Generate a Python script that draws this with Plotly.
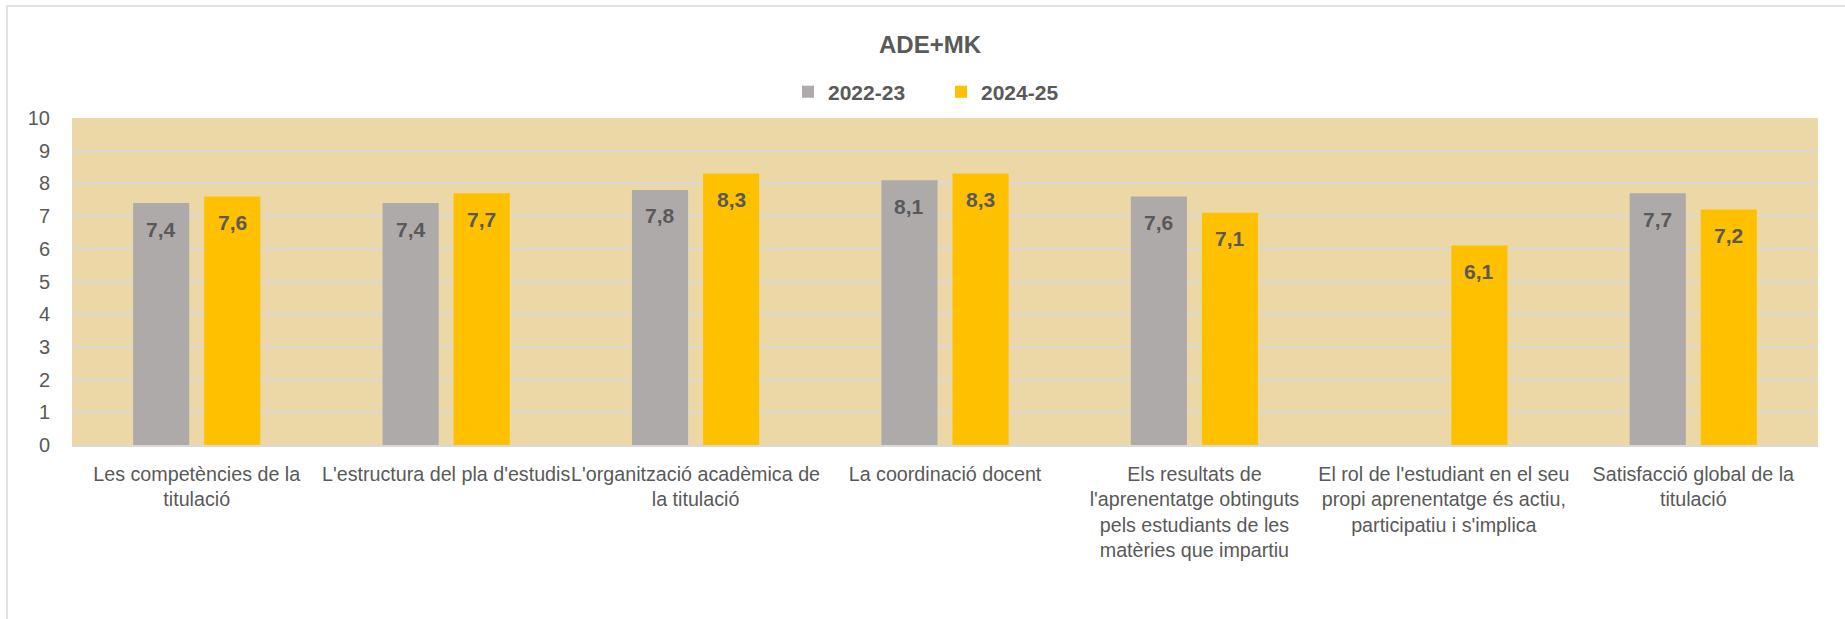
import plotly.graph_objects as go

categories = [
    "Les competències de la<br>titulació",
    "L'estructura del pla d'estudis",
    "L'organització acadèmica de<br>la titulació",
    "La coordinació docent",
    "Els resultats de<br>l'aprenentatge obtinguts<br>pels estudiants de les<br>matèries que impartiu",
    "El rol de l'estudiant en el seu<br>propi aprenentatge és actiu,<br>participatiu i s'implica",
    "Satisfacció global de la<br>titulació",
]
series_names = ["2022-23", "2024-25"]
values_2022 = [7.4, 7.4, 7.8, 8.1, 7.6, None, 7.7]
values_2024 = [7.6, 7.7, 8.3, 8.3, 7.1, 6.1, 7.2]
colors = ["#AEAAAA", "#FFC000"]
y_ticks = list(range(0, 11))

W, H = 1845, 619
L, R, T, B = 72, 27, 118, 174
plot_w = W - L - R
plot_h = H - T - B
BARGAP = 0.43
cat_px = plot_w / len(categories)
slot_px = cat_px * (1 - BARGAP) / 2

TXT = "#595959"
FONT = "Liberation Sans, Arial, sans-serif"

fig = go.Figure()
for name, vals, col in zip(series_names, [values_2022, values_2024], colors):
    fig.add_trace(go.Bar(x=categories, y=vals, name=name, marker=dict(color=col, line=dict(width=0)),
                         hoverinfo="skip"))

# data labels inside the top of each bar
for si, vals in enumerate([values_2022, values_2024]):
    shift = (-0.5 if si == 0 else 0.5) * slot_px
    for c, v in zip(categories, vals):
        if v is None:
            continue
        fig.add_annotation(x=c, y=v, xref="x", yref="y", text=f"{v:.1f}".replace(".", ","),
                           showarrow=False, xshift=shift, yshift=-26, yanchor="middle",
                           font=dict(family=FONT, size=21, color=TXT, weight="bold"))

# outer chart border (left & top visible)
fig.add_shape(type="rect", xref="paper", yref="paper",
              x0=(7 - L) / plot_w, x1=(W + 10 - L) / plot_w,
              y0=(H - B - 6) / plot_h, y1=(H - B - (H + 10)) / plot_h,
              line=dict(color="#D9D9D9", width=1.5), fillcolor="rgba(0,0,0,0)", layer="below")

fig.update_layout(
    width=W, height=H,
    margin=dict(l=L, r=R, t=T, b=B),
    paper_bgcolor="white",
    plot_bgcolor="#ECD8A6",
    barmode="group", bargap=BARGAP, bargroupgap=0.21,
    separators=",.",
    title=dict(text="<b>ADE+MK</b>", x=930 / W, xanchor="center", y=1 - 45 / H, yanchor="middle",
               font=dict(family=FONT, size=24, color=TXT)),
    legend=dict(orientation="h", x=(941 - L) / plot_w, xanchor="center",
                y=1 + (T - 92) / plot_h, yanchor="middle",
                font=dict(family=FONT, size=21, color=TXT, weight="bold"),
                entrywidth=108, entrywidthmode="pixels", bgcolor="rgba(0,0,0,0)"),
    xaxis=dict(tickfont=dict(family=FONT, size=19.7, color=TXT), showgrid=False,
               showline=True, linecolor="#D9D9D9", linewidth=2, ticks="", tickangle=0,
               ticklabelstandoff=10),
    yaxis=dict(range=[0, 10], tickvals=y_ticks, tickfont=dict(family=FONT, size=20, color=TXT),
               showgrid=True, gridcolor="#D9D9D9", gridwidth=1.5, zeroline=False,
               showline=False, ticks="", ticklabelstandoff=21),
    showlegend=True,
)
fig.write_html("out.html", config={"displayModeBar": False},
               post_script="document.body.style.margin='0';document.body.style.overflow='hidden';")
